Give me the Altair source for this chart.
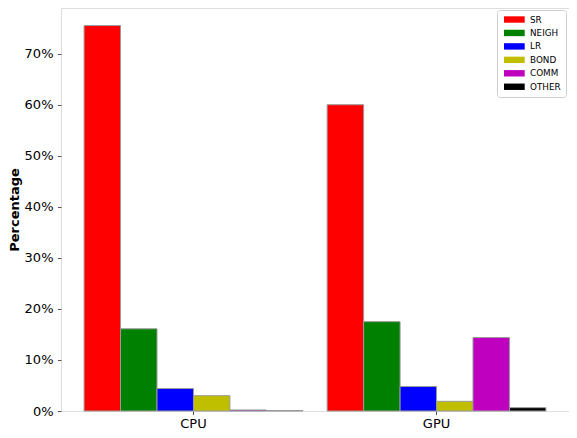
import altair as alt
import pandas as pd

platforms = ["CPU", "GPU"]
series = ["SR", "NEIGH", "LR", "BOND", "COMM", "OTHER"]
cpu_pct = [75.5, 16.1, 4.4, 3.0, 0.2, 0.1]
gpu_pct = [60.0, 17.5, 4.8, 1.9, 14.4, 0.65]
colors = ["#ff0000", "#008000", "#0000ff", "#bfbf00", "#bf00bf", "#000000"]
y_ticks = [0.0, 0.1, 0.2, 0.3, 0.4, 0.5, 0.6, 0.7]

rows = []
for p, vals in zip(platforms, [cpu_pct, gpu_pct]):
    for s, v in zip(series, vals):
        rows.append({"platform": p, "series": s, "value": v / 100.0})
df = pd.DataFrame(rows)

FONT = "DejaVu Sans"

chart = alt.Chart(df).mark_bar(stroke="#9a9a9a", strokeWidth=1).encode(
    x=alt.X(
        "platform:N",
        sort=platforms,
        scale=alt.Scale(paddingInner=0.1, paddingOuter=0.095),
        axis=alt.Axis(
            title=None, labelAngle=0, labelFont=FONT, labelFontSize=13,
            labelColor="black", tickSize=3.5, tickColor="#555555",
            labelPadding=3, domain=False, grid=False,
        ),
    ),
    xOffset=alt.XOffset(
        "series:N", sort=series,
        scale=alt.Scale(paddingInner=0, paddingOuter=0),
    ),
    y=alt.Y(
        "value:Q",
        scale=alt.Scale(domain=[0, 0.7894], nice=False, zero=True),
        axis=alt.Axis(
            title="Percentage", titleFont=FONT, titleFontSize=13,
            titleFontWeight="bold", titleColor="black", titleAngle=-90,
            titleX=-46.5, titleY=201.5, titleBaseline="middle", titleAlign="center",
            format=".0%", values=y_ticks, labelFont=FONT, labelFontSize=13,
            labelColor="black", tickSize=3.5, tickColor="#555555",
            labelPadding=4.5, domain=False, grid=False,
        ),
    ),
    color=alt.Color(
        "series:N",
        sort=series,
        scale=alt.Scale(domain=series, range=colors),
        legend=alt.Legend(
            title=None, orient="none", legendX=436, legendY=2,
            symbolType="M-0.556,-0.711H4.044V0.711H-0.556Z",
            symbolSize=81, symbolStrokeWidth=0, symbolOffset=0,
            labelFont=FONT, labelFontSize=8.8, labelColor="black",
            labelOffset=19, rowPadding=3.45, padding=5,
            strokeColor="#cccccc", cornerRadius=3, fillColor="white",
        ),
    ),
).properties(
    width=508,
    height=403,
    autosize=alt.AutoSizeParams(type="none"),
    padding={"left": 53, "top": 0, "right": 0, "bottom": 19},
).configure_view(
    stroke="#808080", strokeWidth=1.3
).configure(background="white")

chart.save("out.html", embed_options={"renderer": "svg", "actions": False})
